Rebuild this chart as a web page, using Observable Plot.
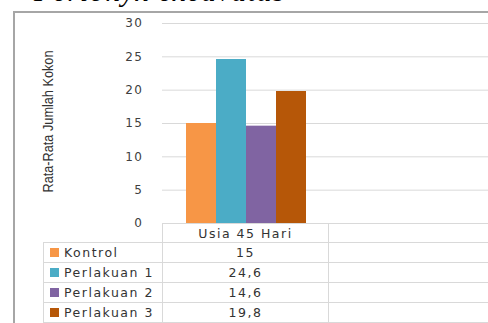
<!DOCTYPE html>
<html><head><meta charset="utf-8">
<script src="https://cdn.jsdelivr.net/npm/d3@7"></script>
<script src="https://cdn.jsdelivr.net/npm/@observablehq/plot@0.6"></script>
<style>
html,body{margin:0;padding:0;background:#fff;overflow:hidden;}
#wrap{position:relative;width:488px;height:323px;overflow:hidden;background:#fff;}
#title{position:absolute;left:34px;top:-23px;font:italic 29px/29px "Liberation Serif",serif;letter-spacing:1.4px;color:#000;white-space:nowrap;}
#frame{position:absolute;left:13px;top:11px;width:700px;height:400px;border-left:2px solid #a6a6a6;border-top:2px solid #a6a6a6;}
#chart{position:absolute;left:0;top:0;}
#chart svg{max-width:none;}
.cell{position:absolute;box-sizing:border-box;border:1px solid #d9d9d9;font:12.5px "DejaVu Sans",sans-serif;letter-spacing:1.5px;color:#333;display:flex;align-items:center;white-space:nowrap;}
.center{justify-content:center;}
.key{display:inline-block;width:9px;height:9px;margin:0 5px 0 6px;}
</style></head>
<body><div id="wrap"><div id="title"></div><div id="frame"></div><div id="chart"></div><div id="table"></div></div>
<script>
const titleText = "Perionyx excavatus";
const category = "Usia 45 Hari";
const series = ["Kontrol", "Perlakuan 1", "Perlakuan 2", "Perlakuan 3"];
const values = [15, 24.6, 14.6, 19.8];
const valueLabels = ["15", "24,6", "14,6", "19,8"];
const colors = ["#F79646", "#4BACC6", "#8064A2", "#B65708"];
const yTicks = [0, 5, 10, 15, 20, 25, 30];
const yLabel = "Rata-Rata Jumlah Kokon";

document.getElementById("title").textContent = titleText;

const data = series.map((s, i) => ({series: s, value: values[i]}));

const chart = Plot.plot({
  width: 488,
  height: 323,
  marginLeft: 162,
  marginRight: 0,
  marginTop: 23,
  marginBottom: 100,
  style: {fontFamily: "DejaVu Sans", fontSize: "12px", color: "#404040", background: "transparent", letterSpacing: "1.5px", maxWidth: "none"},
  x: {domain: series, range: [185, 306], padding: 0, axis: null},
  y: {domain: [0, 30]},
  color: {domain: series, range: colors},
  marks: [
    Plot.ruleY(yTicks.slice(1), {stroke: "#d9d9d9", strokeOpacity: 1}),
    Plot.barY(data, {x: "series", y: "value", fill: "series", inset: 0}),
    Plot.axisY({ticks: yTicks, tickSize: 0, tickPadding: 19, label: null, fill: "#404040"}),
    Plot.text([yLabel], {frameAnchor: "left", rotate: -90, dx: -114, dy: -2, textAnchor: "middle", fontSize: 15.5, fontFamily: "'Liberation Sans', Arial, sans-serif", fill: "#333", text: d => d})
  ]
});
document.getElementById("chart").appendChild(chart);
// condense the axis title like the reference's narrow font
d3.select(chart).selectAll("g[aria-label='text'] text")
  .attr("textLength", 142).attr("lengthAdjust", "spacingAndGlyphs").style("letter-spacing", "0px");

// data table below the plot
const table = d3.select("#table");
const col0 = 43, col1 = 162, col2 = 328, col3 = 700;
const top0 = 223, rowH = 20;
table.append("div").attr("class", "cell center")
  .style("left", col1 + "px").style("top", top0 + "px")
  .style("width", (col2 - col1 + 1) + "px").style("height", (rowH) + "px")
  .text(category);
table.append("div").attr("class", "cell")
  .style("left", col2 + "px").style("top", top0 + "px")
  .style("width", (col3 - col2) + "px").style("height", (rowH) + "px");
series.forEach((s, i) => {
  const t = top0 + rowH - 1 + i * rowH;
  const c0 = table.append("div").attr("class", "cell")
    .style("left", col0 + "px").style("top", t + "px")
    .style("width", (col1 - col0 + 1) + "px").style("height", (rowH + 1) + "px");
  c0.append("span").attr("class", "key").style("background", colors[i]);
  c0.append("span").text(s);
  table.append("div").attr("class", "cell center")
    .style("left", col1 + "px").style("top", t + "px")
    .style("width", (col2 - col1 + 1) + "px").style("height", (rowH + 1) + "px")
    .text(valueLabels[i]);
  table.append("div").attr("class", "cell")
    .style("left", col2 + "px").style("top", t + "px")
    .style("width", (col3 - col2) + "px").style("height", (rowH + 1) + "px");
});
</script>
</body></html>
